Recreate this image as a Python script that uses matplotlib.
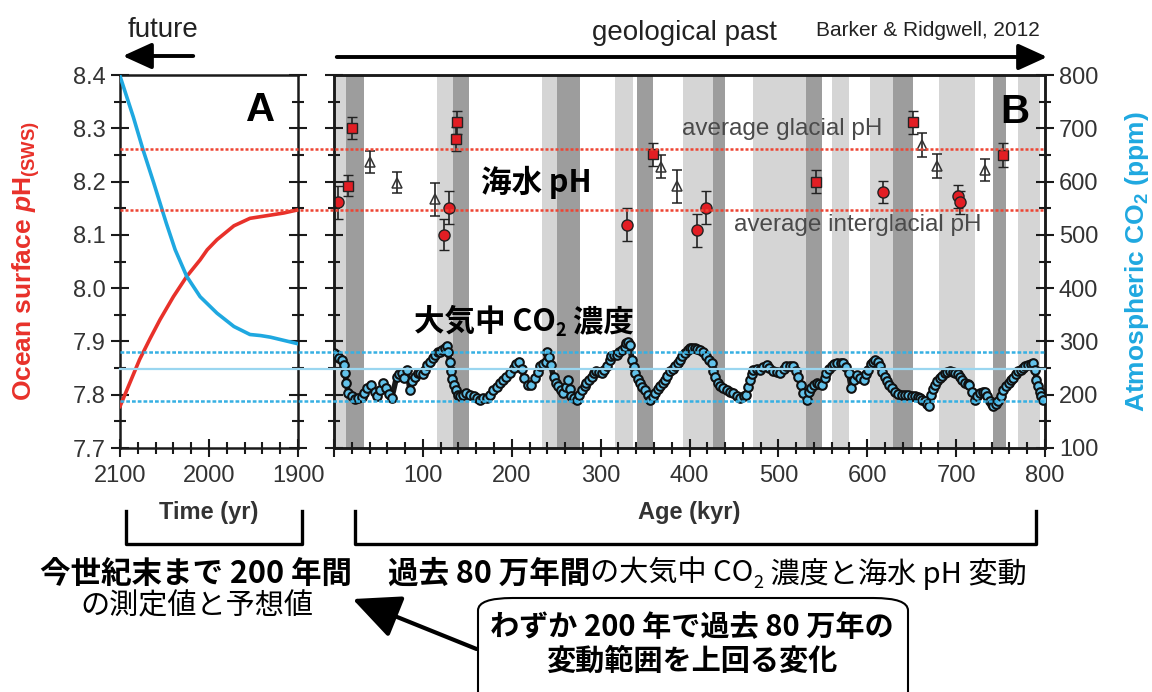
import matplotlib
matplotlib.use("Agg")
import matplotlib.pyplot as plt
from matplotlib.lines import Line2D
from matplotlib.patches import FancyBboxPatch, FancyArrowPatch
from matplotlib.ticker import MultipleLocator
from matplotlib.transforms import blended_transform_factory

plt.rcParams['font.family'] = ['Liberation Sans', 'Noto Sans CJK JP', 'DejaVu Sans']
plt.rcParams['mathtext.fontset'] = 'custom'
plt.rcParams['mathtext.rm'] = 'Liberation Sans:bold'
plt.rcParams['mathtext.it'] = 'Liberation Sans:bold:italic'
plt.rcParams['mathtext.bf'] = 'Liberation Sans:bold'
JP = ['Noto Sans CJK JP', 'DejaVu Sans']

# ---------------- data ----------------
# Panel A: projected / measured surface pH and CO2 (2100 -> 1900)
a_ph_years = [2100, 2089, 2078, 2066, 2055, 2040, 2025, 2010, 2002, 1991, 1972, 1954, 1935, 1916, 1900]
a_ph = [7.778, 7.822, 7.866, 7.906, 7.941, 7.984, 8.022, 8.053, 8.072, 8.091, 8.117, 8.131, 8.136, 8.141, 8.147]
a_co2_years = [2100, 2085, 2074, 2062, 2048, 2038, 2025, 2010, 1991, 1972, 1954, 1942, 1931, 1916, 1901]
a_co2 = [798, 721, 659, 597, 522, 472, 422, 384, 353, 328, 313, 311, 308, 302, 296]

# Panel B: boron-isotope pH reconstructions (age kyr, pH, error)
circ_age = [5, 124, 129, 330, 409, 419, 618, 702, 704]
circ_ph = [8.161, 8.100, 8.151, 8.119, 8.109, 8.151, 8.180, 8.172, 8.161]
circ_err = [0.031, 0.029, 0.031, 0.031, 0.031, 0.031, 0.021, 0.021, 0.022]
sq_age = [15.7, 20.6, 137, 138, 359, 542, 651, 753]
sq_ph = [8.192, 8.301, 8.280, 8.311, 8.251, 8.200, 8.311, 8.250]
sq_err = [0.020, 0.021, 0.022, 0.022, 0.022, 0.021, 0.022, 0.022]
tri_age = [40.5, 71, 113.6, 367.5, 386, 662, 678, 732]
tri_ph = [8.237, 8.198, 8.167, 8.228, 8.191, 8.269, 8.229, 8.222]
tri_err = [0.021, 0.020, 0.031, 0.021, 0.031, 0.022, 0.022, 0.021]

# Panel B: ice-core atmospheric CO2 (age kyr, ppm)
co2_age = [0, 3, 6, 9, 11, 12.5, 14, 16, 20, 24, 27, 31, 34, 37, 42, 46, 48, 52, 55.5, 59,
           62, 65, 70.5, 73, 76, 79, 82, 85.5, 88, 91, 94, 97, 100, 102, 105, 108, 111, 114, 117, 119,
           122, 125, 127, 128.6, 130, 131.5, 133, 135, 137, 140, 142, 145, 149, 153, 157, 161, 164, 168, 172, 176,
           179, 183, 187, 190, 194, 198, 202, 205, 208, 211, 214, 218, 222, 226, 229, 232, 235, 238, 240, 242,
           244, 247, 250, 252, 255, 258, 261, 263, 265, 267, 270, 273, 276, 279, 282, 284, 287, 290, 293, 295,
           298, 301, 304, 307, 310, 312, 315, 318, 321, 324, 327, 329, 331, 333, 335, 337, 339, 342, 344, 347,
           350, 353, 356, 359, 361, 364, 367, 370, 372, 375, 378, 381, 384, 387, 389, 392, 395, 398, 400, 403,
           406, 409, 412, 415, 419, 422, 425, 427, 429, 432, 434, 438, 442, 446, 449, 453, 457, 461, 464, 466,
           468, 470, 472, 476, 479, 483, 487, 490, 494, 498, 502, 506, 509, 513, 517, 520, 522, 525, 528, 532,
           535, 537, 540, 543, 546, 549, 552, 554, 557, 560, 563, 566, 570, 573, 576, 579, 582, 585, 588, 592,
           596, 599, 601, 604, 607, 609, 612, 614, 617, 620, 622, 625, 628, 631, 635, 639, 643, 646, 650, 654,
           657, 659, 662, 665, 667, 669, 672, 674, 676, 679, 682, 684, 687, 690, 693, 696, 699, 702, 704, 707,
           710, 713, 715, 718, 721, 724, 727, 730, 732, 735, 738, 740, 742, 745, 747, 750, 753, 756, 759, 762,
           764, 767, 770, 773, 775, 778, 781, 784, 787, 789, 790, 792, 794, 796, 798]
co2_ppm = [278, 275, 268, 265, 255, 240, 222, 203, 197, 192, 194, 196, 203, 213, 219, 205, 197, 209, 222, 213,
           202, 194, 234, 238, 241, 232, 247, 209, 225, 234, 240, 241, 238, 247, 255, 262, 268, 275, 280, 281,
           284, 288, 291, 281, 262, 245, 230, 218, 208, 200, 197, 200, 203, 199, 197, 193, 191, 193, 194, 200,
           209, 215, 222, 228, 234, 240, 250, 258, 262, 248, 232, 218, 218, 231, 242, 253, 257, 262, 281, 270,
           255, 234, 222, 216, 208, 203, 215, 228, 210, 197, 193, 191, 200, 209, 216, 222, 228, 234, 240, 244,
           242, 241, 247, 253, 265, 272, 274, 275, 280, 284, 290, 297, 298, 294, 266, 252, 241, 230, 222, 215,
           209, 200, 191, 196, 203, 210, 216, 222, 228, 236, 244, 249, 253, 260, 266, 272, 278, 284, 288, 288,
           288, 286, 284, 280, 273, 266, 259, 245, 234, 222, 216, 212, 209, 205, 203, 198, 194, 197, 200, 214,
           228, 238, 247, 248, 247, 252, 256, 250, 244, 242, 241, 248, 253, 254, 253, 245, 234, 218, 203, 191,
           205, 213, 218, 222, 220, 219, 232, 241, 248, 253, 257, 259, 260, 259, 252, 241, 213, 228, 237, 232,
           228, 238, 247, 258, 262, 266, 262, 253, 243, 234, 226, 219, 212, 206, 202, 200, 200, 200, 198, 197,
           195, 194, 191, 188, 183, 178, 200, 210, 219, 226, 231, 236, 241, 243, 244, 243, 241, 238, 234, 228,
           222, 220, 219, 205, 191, 198, 203, 205, 206, 197, 188, 182, 178, 183, 188, 198, 209, 216, 222, 227,
           231, 238, 244, 247, 250, 253, 256, 258, 259, 247, 228, 216, 206, 198, 191]

# Glacial / interglacial shading (kyr)
light_bands = [(0, 13), (116, 134), (234, 251), (316, 336), (393, 426), (471, 531),
               (560, 580), (603, 629), (681, 721), (770, 794)]
dark_bands = [(13, 34), (134, 152), (251, 277), (341, 359), (426, 440), (531, 549),
              (629, 651), (742, 756)]

# Reference levels
glacial_ph = 8.262
interglacial_ph = 8.146
co2_levels_dotted = [280, 188]
co2_level_solid = 248

a_xticks = [2100, 2000, 1900]
ph_ticks = [7.7, 7.8, 7.9, 8.0, 8.1, 8.2, 8.3, 8.4]
age_ticks = [0, 100, 200, 300, 400, 500, 600, 700, 800]
age_ticklabels = ["", "100", "200", "300", "400", "500", "600", "700", "800"]
co2_ticks = [100, 200, 300, 400, 500, 600, 700, 800]

RED = '#e8312a'
BLUE = '#1fa8e0'
W, H = 1152, 692


def fx(px):
    return px / W


def fy(py):
    return 1 - py / H


fig = plt.figure(figsize=(W / 100, H / 100), dpi=100)
axA = fig.add_axes([fx(120), fy(448), 178 / W, 373 / H])
axB = fig.add_axes([fx(334), fy(448), 711 / W, 373 / H])
renderer = fig.canvas.get_renderer()


def seq_text(x_px, y_px, pieces):
    """Place text pieces one after another (pieces: text, kwargs, downward shift px)."""
    x = x_px
    for txt, kw, dy in pieces:
        t = fig.text(fx(x), fy(y_px + dy), txt, ha='left', va='center', **kw)
        bb = t.get_window_extent(renderer=renderer)
        x += bb.width
    return x


spine_c = '#1a1a1a'
tick_kw = dict(direction='inout', colors=spine_c, labelcolor='#333333', labelsize=17, width=1.5)

# ---- Panel A ----
axA2 = axA.twinx()
axA.plot(a_ph_years, a_ph, color=RED, lw=2.6, zorder=3)
axA2.plot(a_co2_years, a_co2, color=BLUE, lw=2.6, zorder=3)
axA.set_xlim(2100, 1900)
axA.set_ylim(7.7, 8.4)
axA2.set_ylim(100, 800)
axA2.axis('off')
axA.set_xticks(a_xticks)
axA.set_yticks(ph_ticks)
axA.set_yticklabels([f"{v:.1f}" for v in ph_ticks])
axA.xaxis.set_minor_locator(MultipleLocator(20))
axA.yaxis.set_minor_locator(MultipleLocator(0.05))
axA.tick_params(which='both', right=True, top=False, **tick_kw)
axA.tick_params(which='major', length=13)
axA.tick_params(which='minor', length=8)
axA.tick_params(axis='x', pad=6)
axA.set_xlabel("Time (yr)", fontsize=17, fontweight='bold', color='#333333', labelpad=10)
axA.set_ylabel(r"Ocean surface $\mathit{p}$H$_{\mathrm{(SWS)}}$", fontsize=19,
               fontweight='bold', color=RED)
axA.yaxis.set_label_coords(-0.44, 0.5)
axA.text(0.79, 0.905, "A", transform=axA.transAxes, fontsize=29, fontweight='bold',
         ha='center', va='center')

# ---- Panel B ----
for s, e in light_bands:
    axB.axvspan(s, e, color='#d5d5d5', lw=0, zorder=0)
for s, e in dark_bands:
    axB.axvspan(s, e, color='#9d9d9d', lw=0, zorder=0)

eb = dict(ecolor='#222222', elinewidth=1.2, capsize=3.5, capthick=1.2, zorder=5)
axB.errorbar(tri_age, tri_ph, yerr=tri_err, fmt='^', ms=7.5, mfc='none', mec='#333333', mew=1.1, **eb)
axB.errorbar(circ_age, circ_ph, yerr=circ_err, fmt='o', ms=8, mfc='#e31e24', mec='#222222', mew=1, **eb)
axB.errorbar(sq_age, sq_ph, yerr=sq_err, fmt='s', ms=7, mfc='#e31e24', mec='#222222', mew=1, **eb)

axB.set_xlim(0, 800)
axB.set_ylim(7.7, 8.4)
axB.set_xticks(age_ticks)
axB.set_xticklabels(age_ticklabels)
axB.set_yticks(ph_ticks)
axB.set_yticklabels([])
axB.xaxis.set_minor_locator(MultipleLocator(20))
axB.yaxis.set_minor_locator(MultipleLocator(0.05))
axB.tick_params(which='both', right=False, top=False, **tick_kw)
axB.tick_params(which='major', length=13)
axB.tick_params(which='minor', length=8)
axB.tick_params(axis='x', pad=6)
axB.set_xlabel("Age (kyr)", fontsize=17, fontweight='bold', color='#333333', labelpad=10)

axB2 = axB.twinx()
axB2.plot(co2_age, co2_ppm, color='#1a1a1a', lw=4, zorder=3)
axB2.plot(co2_age, co2_ppm, ls='none', marker='o', ms=6.2, mfc='#62c2ea', mec='#101010', mew=1.5, zorder=4)
axB2.set_ylim(100, 800)
axB2.set_yticks(co2_ticks)
axB2.yaxis.set_minor_locator(MultipleLocator(50))
axB2.tick_params(which='both', **tick_kw)
axB2.tick_params(which='major', length=13)
axB2.tick_params(which='minor', length=8)
axB2.set_ylabel("Atmospheric CO$_2$ (ppm)", fontsize=19, fontweight='bold', color=BLUE)
axB2.yaxis.set_label_coords(1.11, 0.5)

for ax in (axA, axB, axB2):
    for sp in ax.spines.values():
        sp.set_linewidth(1.8)
        sp.set_color(spine_c)

axB2.text(0.957, 0.9, "B", transform=axB.transAxes, fontsize=29, fontweight='bold',
          ha='center', va='center')
axB2.text(0.49, 0.855, "average glacial pH", transform=axB.transAxes, fontsize=17.5,
          color='#4a4a4a', ha='left', va='center')
axB2.text(0.563, 0.597, "average interglacial pH", transform=axB.transAxes, fontsize=17.5,
          color='#4a4a4a', ha='left', va='center')
axB2.text(0.285, 0.712, "海水 pH", transform=axB.transAxes, fontsize=22, fontweight='bold',
          family=JP, ha='center', va='center')

# ---- Reference lines spanning both panels ----
x0, x1 = fx(120), fx(1045)
trB = blended_transform_factory(fig.transFigure, axB.transData)
trB2 = blended_transform_factory(fig.transFigure, axB2.transData)
for v in (glacial_ph, interglacial_ph):
    fig.add_artist(Line2D([x0, x1], [v, v], transform=trB, color='#ee4433', lw=1.8,
                          ls=(0, (1.2, 0.8)), zorder=6))
for v in co2_levels_dotted:
    fig.add_artist(Line2D([x0, x1], [v, v], transform=trB2, color='#36b0e3', lw=1.8,
                          ls=(0, (1.5, 0.8)), zorder=6))
fig.add_artist(Line2D([x0, x1], [co2_level_solid, co2_level_solid], transform=trB2,
                      color='#9ad6f0', lw=1.6, zorder=6))

# ---- In-plot CO2 label with subscript ----
bold22 = dict(fontsize=22, fontweight='bold', family=JP)
seq_text(414, 322, [("大気中 CO", bold22, 0),
                    ("2", dict(fontsize=13, fontweight='bold', family=JP), 9),
                    (" 濃度", bold22, 0)])

# ---- Top annotations ----
fig.text(fx(163), fy(30), "future", fontsize=20, color='#222222', ha='center', va='center')
fig.add_artist(FancyArrowPatch((fx(196), fy(56)), (fx(120), fy(56)), transform=fig.transFigure,
                               arrowstyle='-|>,head_length=1.1,head_width=0.5', mutation_scale=16,
                               lw=2.8, color='black'))
fig.text(fx(684), fy(33), "geological past", fontsize=20, color='#222222', ha='center', va='center')
fig.add_artist(FancyArrowPatch((fx(334), fy(57)), (fx(1050), fy(57)), transform=fig.transFigure,
                               arrowstyle='-|>,head_length=1.1,head_width=0.5', mutation_scale=16,
                               lw=2.8, color='black'))
fig.text(fx(928), fy(31), "Barker & Ridgwell, 2012", fontsize=15, color='#222222',
         ha='center', va='center')

# ---- Brackets ----
for xl, xr in ((126, 302), (355, 1036)):
    fig.add_artist(Line2D([fx(xl), fx(xl), fx(xr), fx(xr)], [fy(511), fy(544), fy(544), fy(511)],
                          transform=fig.transFigure, color='black', lw=2.4))

# ---- Japanese captions ----
fig.text(fx(196), fy(574), "今世紀末まで 200 年間", fontsize=22, fontweight='bold', family=JP,
         ha='center', va='center')
fig.text(fx(197), fy(606), "の測定値と予想値", fontsize=21, family=JP, ha='center', va='center')

reg21 = dict(fontsize=21, family=JP)
seq_text(388, 574, [("過去 80 万年間", bold22, 0),
                    ("の大気中 CO", reg21, 0),
                    ("2", dict(fontsize=13, family=JP), 9),
                    (" 濃度と海水 pH 変動", reg21, 0)])

box = FancyBboxPatch((fx(478), fy(720)), fx(908) - fx(478), fy(598) - fy(720),
                     boxstyle='round,pad=0,rounding_size=0.03', transform=fig.transFigure,
                     fc='white', ec='black', lw=1.5, mutation_aspect=H / W)
fig.add_artist(box)
fig.text(fx(692), fy(627), "わずか 200 年で過去 80 万年の", fontsize=21, fontweight='bold', family=JP,
         ha='center', va='center')
fig.text(fx(692), fy(661), "変動範囲を上回る変化", fontsize=21, fontweight='bold', family=JP,
         ha='center', va='center')
fig.add_artist(FancyArrowPatch((fx(479), fy(650)), (fx(350), fy(598)), transform=fig.transFigure,
                               arrowstyle='-|>,head_length=1.4,head_width=0.65', mutation_scale=21,
                               lw=3, color='black'))

fig.savefig("out.png", dpi=100)
